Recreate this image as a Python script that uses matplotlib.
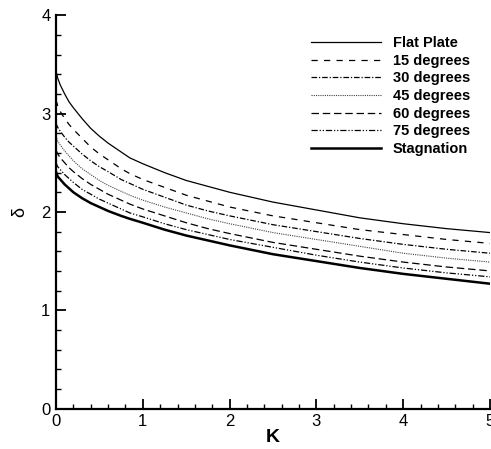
import numpy as np
import matplotlib
matplotlib.use("Agg")
import matplotlib.pyplot as plt
from matplotlib.ticker import MultipleLocator

plt.rcParams["font.family"] = ["Liberation Sans", "DejaVu Sans"]

# ==============================
# Daten
# ==============================
K = [0, 0.02, 0.05, 0.1, 0.15, 0.2, 0.3, 0.4, 0.5, 0.6, 0.75, 0.85, 1,
     1.25, 1.5, 1.75, 2, 2.5, 3, 3.5, 4, 4.5, 5]

flat_plate = [3.43, 3.36, 3.29, 3.20, 3.12, 3.06, 2.95, 2.85, 2.77, 2.70, 2.61, 2.55, 2.49,
              2.40, 2.32, 2.26, 2.20, 2.10, 2.02, 1.94, 1.88, 1.83, 1.79]
deg15 = [3.14, 3.08, 3.02, 2.95, 2.89, 2.84, 2.75, 2.66, 2.59, 2.53, 2.44, 2.39, 2.33,
         2.25, 2.17, 2.11, 2.05, 1.96, 1.89, 1.82, 1.77, 1.72, 1.68]
deg30 = [2.90, 2.86, 2.82, 2.76, 2.71, 2.67, 2.59, 2.52, 2.46, 2.41, 2.33, 2.29, 2.23,
         2.15, 2.07, 2.01, 1.96, 1.87, 1.80, 1.73, 1.67, 1.62, 1.58]
deg45 = [2.77, 2.72, 2.68, 2.62, 2.57, 2.52, 2.44, 2.38, 2.32, 2.27, 2.21, 2.17, 2.12,
         2.05, 1.99, 1.93, 1.88, 1.79, 1.72, 1.65, 1.58, 1.53, 1.49]
deg60 = [2.63, 2.59, 2.55, 2.50, 2.45, 2.41, 2.34, 2.28, 2.23, 2.18, 2.12, 2.08, 2.03,
         1.96, 1.89, 1.83, 1.78, 1.69, 1.62, 1.55, 1.49, 1.44, 1.40]
deg75 = [2.50, 2.46, 2.43, 2.38, 2.34, 2.30, 2.23, 2.18, 2.13, 2.09, 2.03, 1.99, 1.95,
         1.88, 1.82, 1.77, 1.72, 1.64, 1.56, 1.49, 1.43, 1.38, 1.34]
stagnation = [2.41, 2.36, 2.33, 2.28, 2.24, 2.20, 2.14, 2.09, 2.05, 2.01, 1.96, 1.93, 1.89,
              1.82, 1.76, 1.71, 1.66, 1.57, 1.50, 1.43, 1.37, 1.32, 1.27]

labels = ["Flat Plate", "15 degrees", "30 degrees", "45 degrees", "60 degrees", "75 degrees", "Stagnation"]

# ==============================
# Plot
# ==============================
fig = plt.figure(figsize=(4.91, 4.49), dpi=100)
ax = fig.add_axes([0.114, 0.090, 0.884, 0.876])

ax.plot(K, flat_plate, color="black", lw=0.9, linestyle="-", label=labels[0])
ax.plot(K, deg15, color="black", lw=0.9, linestyle=(0, (5, 5)), label=labels[1])
ax.plot(K, deg30, color="black", lw=0.9, linestyle=(0, (4.5, 1.5, 1, 1.5)), label=labels[2])
ax.plot(K, deg45, color="#444444", lw=0.8, linestyle=(0, (1, 1)), label=labels[3])
ax.plot(K, deg60, color="black", lw=0.9, linestyle=(0, (6, 3)), label=labels[4])
ax.plot(K, deg75, color="black", lw=0.9, linestyle=(0, (5, 1.5, 1, 1.5, 1, 1.5)), label=labels[5])
ax.plot(K, stagnation, color="black", lw=1.8, linestyle="-", label=labels[6])

ax.set_xlim(0, 5)
ax.set_ylim(0, 4)
ax.xaxis.set_major_locator(MultipleLocator(1))
ax.xaxis.set_minor_locator(MultipleLocator(0.2))
ax.yaxis.set_major_locator(MultipleLocator(1))
ax.yaxis.set_minor_locator(MultipleLocator(0.2))

for side in ["top", "right"]:
    ax.spines[side].set_visible(False)
for side in ["left", "bottom"]:
    ax.spines[side].set_linewidth(1.6)

ax.tick_params(which="major", direction="in", length=7, width=1.3, labelsize=12, pad=4)
ax.tick_params(which="minor", direction="in", length=3.5, width=1.0)

ax.set_xlabel("K", fontsize=14, fontweight="bold", labelpad=0)
ax.set_ylabel("δ", fontsize=13, labelpad=9)

ax.legend(loc="upper left", bbox_to_anchor=(0.575, 0.962), frameon=False,
          prop={"weight": "bold", "size": 10.5}, handlelength=4.8,
          handletextpad=0.8, labelspacing=0.25, borderaxespad=0)

fig.savefig("out.png", dpi=100)
